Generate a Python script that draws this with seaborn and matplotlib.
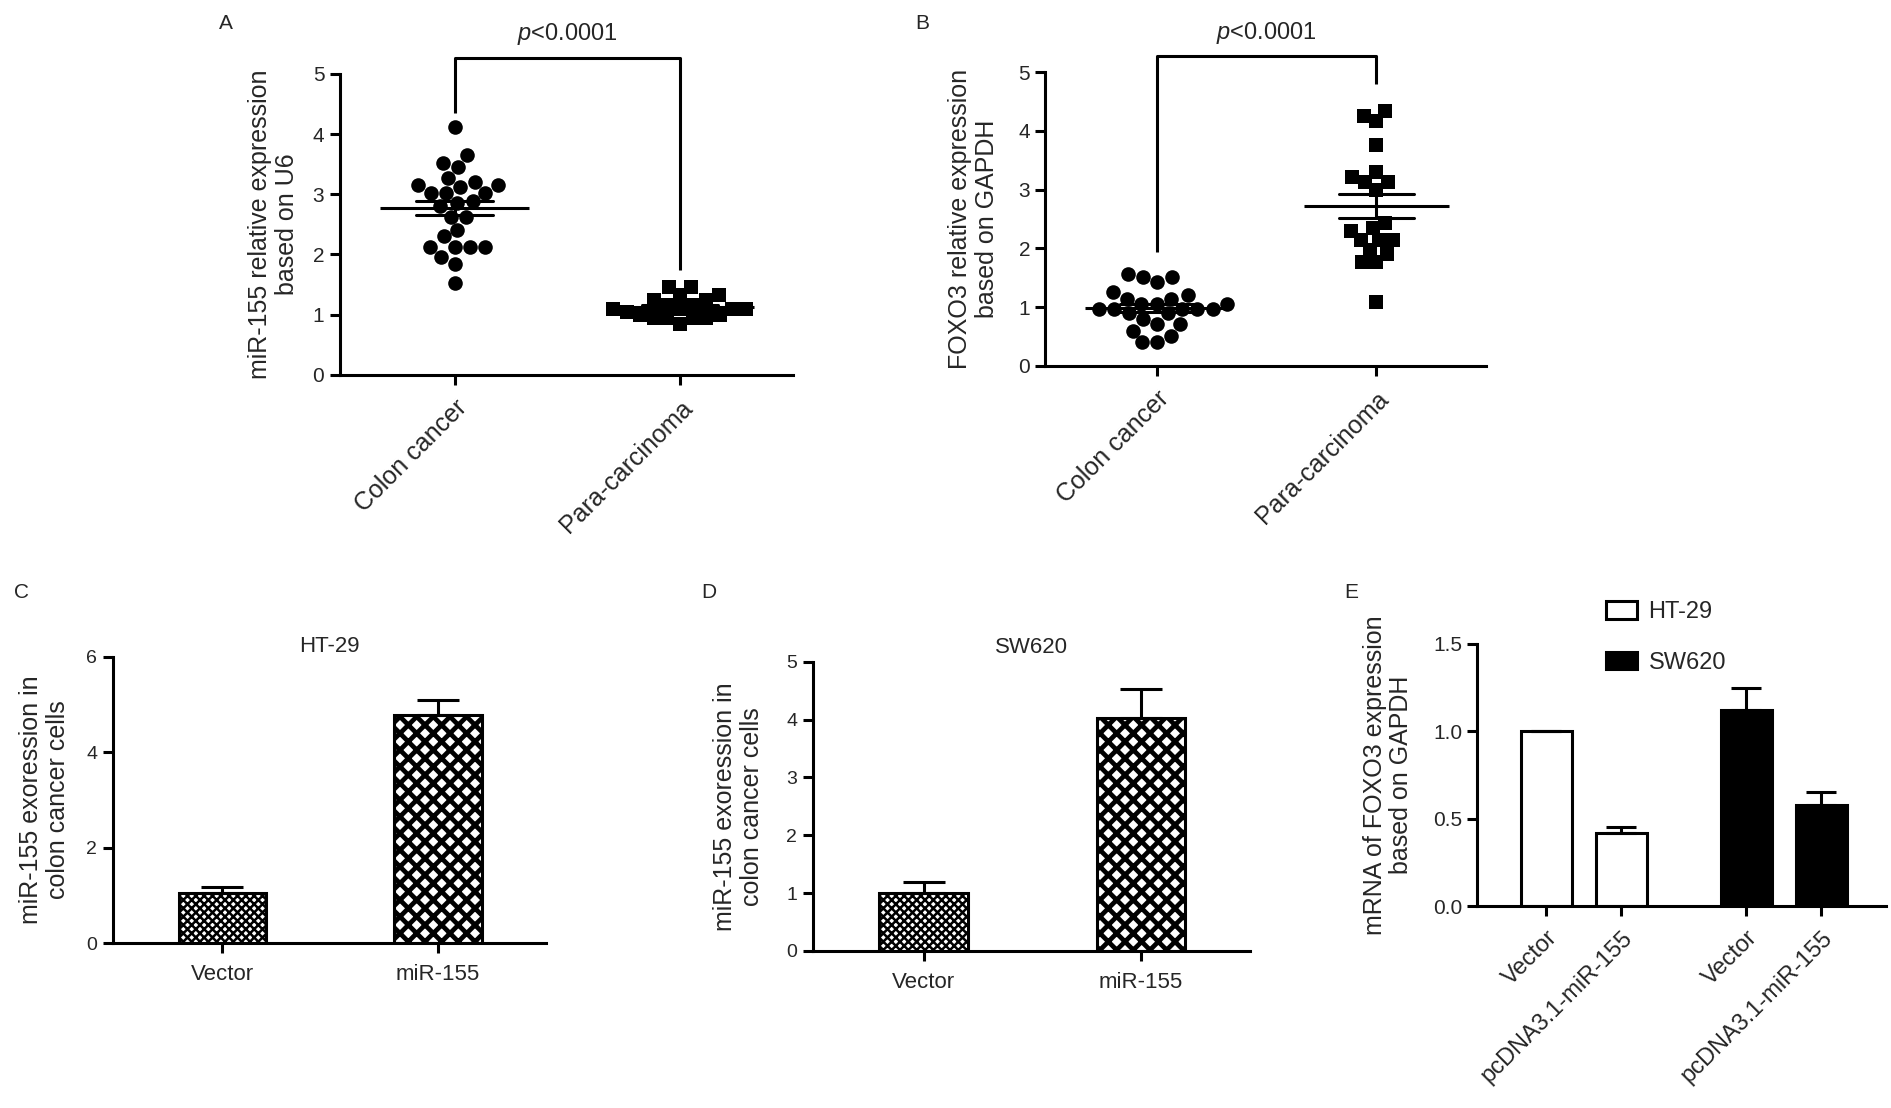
import numpy as np
import pandas as pd
import matplotlib
matplotlib.use("Agg")
import matplotlib.pyplot as plt
import seaborn as sns
from matplotlib.patches import Patch

sns.set_theme(style="ticks")
plt.rcParams["font.family"] = ["Liberation Sans", "DejaVu Sans"]
plt.rcParams["mathtext.fontset"] = "custom"
plt.rcParams["mathtext.it"] = "Liberation Sans:italic"
plt.rcParams["mathtext.rm"] = "Liberation Sans"
plt.rcParams["hatch.linewidth"] = 2.0
plt.rcParams["hatch.color"] = "black"

LW = 2.2

# panels A / B : single samples
tissue = ["Colon cancer", "Para-carcinoma"]
mir155_cancer = [4.11, 3.65, 3.52, 3.46, 3.27, 3.20, 3.15, 3.15, 3.12, 3.02, 3.02, 3.02, 2.88,
                 2.85, 2.80, 2.63, 2.63, 2.41, 2.30, 2.13, 2.13, 2.13, 2.13, 1.95, 1.85, 1.53]
mir155_para = [1.46, 1.46, 1.33, 1.33, 1.24, 1.24, 1.16, 1.16, 1.10, 1.10, 1.10, 1.10, 1.05,
               0.99, 0.99, 0.94, 0.94, 0.94, 0.94, 0.85]
foxo3_cancer = [1.57, 1.51, 1.51, 1.43, 1.26, 1.20, 1.14, 1.14, 1.06, 1.06, 1.06, 0.97, 0.97,
                0.97, 0.97, 0.97, 0.89, 0.89, 0.80, 0.71, 0.71, 0.60, 0.51, 0.40, 0.40]
foxo3_para = [4.34, 4.26, 4.17, 3.76, 3.30, 3.21, 3.13, 3.13, 3.00, 2.43, 2.34, 2.29, 2.14,
              2.14, 2.14, 1.97, 1.91, 1.77, 1.77, 1.09]

# panels C / D : mean and SEM
constructs = ["Vector", "miR-155"]
bar_hatches = ["xxxx", "xx"]
hatch_widths = [1.8, 3.4]
ht29_mir155 = [1.05, 4.78]
ht29_mir155_sem = [0.12, 0.31]
sw620_mir155 = [1.00, 4.03]
sw620_mir155_sem = [0.20, 0.50]

# panel E
cell_lines = ["HT-29", "SW620"]
cell_colors = ["white", "black"]
treatments = ["Vector", "pcDNA3.1-miR-155"]
foxo3_ht29 = [1.00, 0.42]
foxo3_ht29_sem = [0.00, 0.03]
foxo3_sw620 = [1.12, 0.58]
foxo3_sw620_sem = [0.13, 0.07]


def style_axis(ax, ysize):
    sns.despine(ax=ax)
    for s in ("left", "bottom"):
        ax.spines[s].set_linewidth(LW)
        ax.spines[s].set_color("black")
    ax.tick_params(direction="out", length=7, width=LW, color="black")
    ax.tick_params(axis="y", labelsize=ysize, pad=4)
    ax.grid(False)


def dot_panel(ax, cancer, para, ylabel, labelpad, off_left, off_right):
    df = pd.DataFrame({"tissue": [tissue[0]] * len(cancer) + [tissue[1]] * len(para),
                       "value": cancer + para})
    sns.swarmplot(data=df[df["tissue"] == tissue[0]], x="tissue", y="value", order=tissue,
                  color="black", marker="o", size=10.5, ax=ax)
    sns.swarmplot(data=df[df["tissue"] == tissue[1]], x="tissue", y="value", order=tissue,
                  color="black", marker="s", size=9.5, ax=ax)
    sns.pointplot(data=df, x="tissue", y="value", order=tissue, errorbar="se",
                  capsize=0.34, color="black", linestyle="none", marker="",
                  err_kws={"linewidth": LW}, ax=ax)
    means = df.groupby("tissue")["value"].mean().reindex(tissue).to_numpy()
    xs = np.arange(len(tissue))
    ax.hlines(means, xs - 0.33, xs + 0.33, color="black", lw=LW, zorder=5)

    top = 5.27
    ax.plot([0, 0, 1, 1], [max(cancer) + off_left, top, top, max(para) + off_right],
            color="black", lw=LW, clip_on=False, solid_capstyle="butt")
    ax.text(0.5, top + 0.17, r"$p$<0.0001", ha="center", va="bottom", fontsize=17)

    ax.set_ylim(0, 5)
    ax.set_yticks(range(0, 6))
    ax.set_xlim(-0.51, 1.5)
    ax.set_xlabel("")
    ax.set_ylabel(ylabel, fontsize=18, labelpad=labelpad, linespacing=1.15)
    style_axis(ax, 15)
    ax.set_xticks(xs)
    ax.set_xticklabels(tissue, rotation=45, ha="right", rotation_mode="anchor", fontsize=18)
    ax.tick_params(axis="x", pad=8)


def bar_panel(ax, values, sems, title, ymax, labelpad, title_pad):
    df = pd.DataFrame({"construct": constructs, "value": values})
    sns.barplot(data=df, x="construct", y="value", order=constructs, width=0.405,
                color="white", saturation=1, edgecolor="black", linewidth=LW,
                errorbar=None, ax=ax)
    for patch, hatch, hw in zip(ax.patches, bar_hatches, hatch_widths):
        patch.set_hatch(hatch)
        if hasattr(patch, "set_hatch_linewidth"):
            patch.set_hatch_linewidth(hw)
    xs = np.arange(len(constructs))
    ax.errorbar(xs, values, yerr=[np.zeros(len(sems)), sems], fmt="none", ecolor="black",
                elinewidth=LW, capsize=15, capthick=LW)
    ax.set_ylim(0, ymax)
    ax.set_xlim(-0.51, 1.5)
    ax.set_xlabel("")
    ax.set_ylabel("miR-155 exoression in\ncolon cancer cells", fontsize=18,
                  labelpad=labelpad, linespacing=1.15)
    ax.set_title(title, fontsize=16, pad=title_pad)
    style_axis(ax, 14)
    ax.tick_params(axis="x", labelsize=16, pad=8)


fig = plt.figure(figsize=(18.91, 11.08), dpi=100)

axA = fig.add_axes([0.1796, 0.6616, 0.2396, 0.2718])
dot_panel(axA, mir155_cancer, mir155_para, "miR-155 relative expression\nbased on U6",
          10, 0.24, 0.29)

axB = fig.add_axes([0.5528, 0.6699, 0.2330, 0.2650])
dot_panel(axB, foxo3_cancer, foxo3_para, "FOXO3 relative expression\nbased on GAPDH",
          14, 0.37, 0.46)

axC = fig.add_axes([0.0595, 0.1486, 0.2292, 0.2587])
bar_panel(axC, ht29_mir155, ht29_mir155_sem, "HT-29", 6, 12, 3)
axC.set_yticks([0, 2, 4, 6])

axD = fig.add_axes([0.4297, 0.1417, 0.2313, 0.2611])
bar_panel(axD, sw620_mir155, sw620_mir155_sem, "SW620", 5, 16, 6)
axD.set_yticks(range(0, 6))

# panel E
axE = fig.add_axes([0.7813, 0.1823, 0.2161, 0.2365])
dfE = pd.DataFrame({
    "cell": [cell_lines[0]] * 2 + [cell_lines[1]] * 2,
    "treatment": treatments * 2,
    "value": foxo3_ht29 + foxo3_sw620,
})
sns.barplot(data=dfE, x="cell", y="value", hue="treatment", order=cell_lines,
            hue_order=treatments, palette=["white", "white"], saturation=1,
            width=0.75, gap=0.32, dodge=True, errorbar=None, edgecolor="black",
            linewidth=LW, legend=False, ax=axE)
for container in axE.containers:
    for j, bar in enumerate(container):
        bar.set_facecolor(cell_colors[j])
centers = sorted(p.get_x() + p.get_width() / 2 for p in axE.patches)
axE.errorbar(centers, foxo3_ht29 + foxo3_sw620,
             yerr=[np.zeros(4), foxo3_ht29_sem + foxo3_sw620_sem], fmt="none",
             ecolor="black", elinewidth=LW, capsize=11, capthick=LW)
axE.set_ylim(0, 1.5)
axE.set_yticks([0, 0.5, 1.0, 1.5])
axE.set_yticklabels([f"{v:.1f}" for v in [0, 0.5, 1.0, 1.5]])
axE.set_xlim(-0.53, 1.51)
axE.set_xlabel("")
axE.set_ylabel("mRNA of FOXO3 expression\nbased on GAPDH", fontsize=18, labelpad=14,
               linespacing=1.15)
style_axis(axE, 15)
axE.set_xticks(centers)
axE.set_xticklabels(treatments * 2, rotation=45, ha="right", rotation_mode="anchor",
                    fontsize=17)
axE.tick_params(axis="x", pad=8)
handles = [Patch(facecolor=c, edgecolor="black", linewidth=LW, label=n)
           for n, c in zip(cell_lines, cell_colors)]
axE.legend(handles=handles, loc="upper left", bbox_to_anchor=(0.843, 0.468),
           bbox_transform=fig.transFigure, frameon=False, fontsize=17,
           handlelength=1.3, handleheight=0.75, labelspacing=1.2, handletextpad=0.5,
           borderpad=0)

# panel letters
for letter, x, y in [("A", 0.1195, 0.9788), ("B", 0.4879, 0.9788), ("C", 0.0115, 0.4657),
                     ("D", 0.375, 0.4657), ("E", 0.7147, 0.4657)]:
    fig.text(x, y, letter, fontsize=15, ha="center", va="center")

fig.savefig("out.png", dpi=100)
